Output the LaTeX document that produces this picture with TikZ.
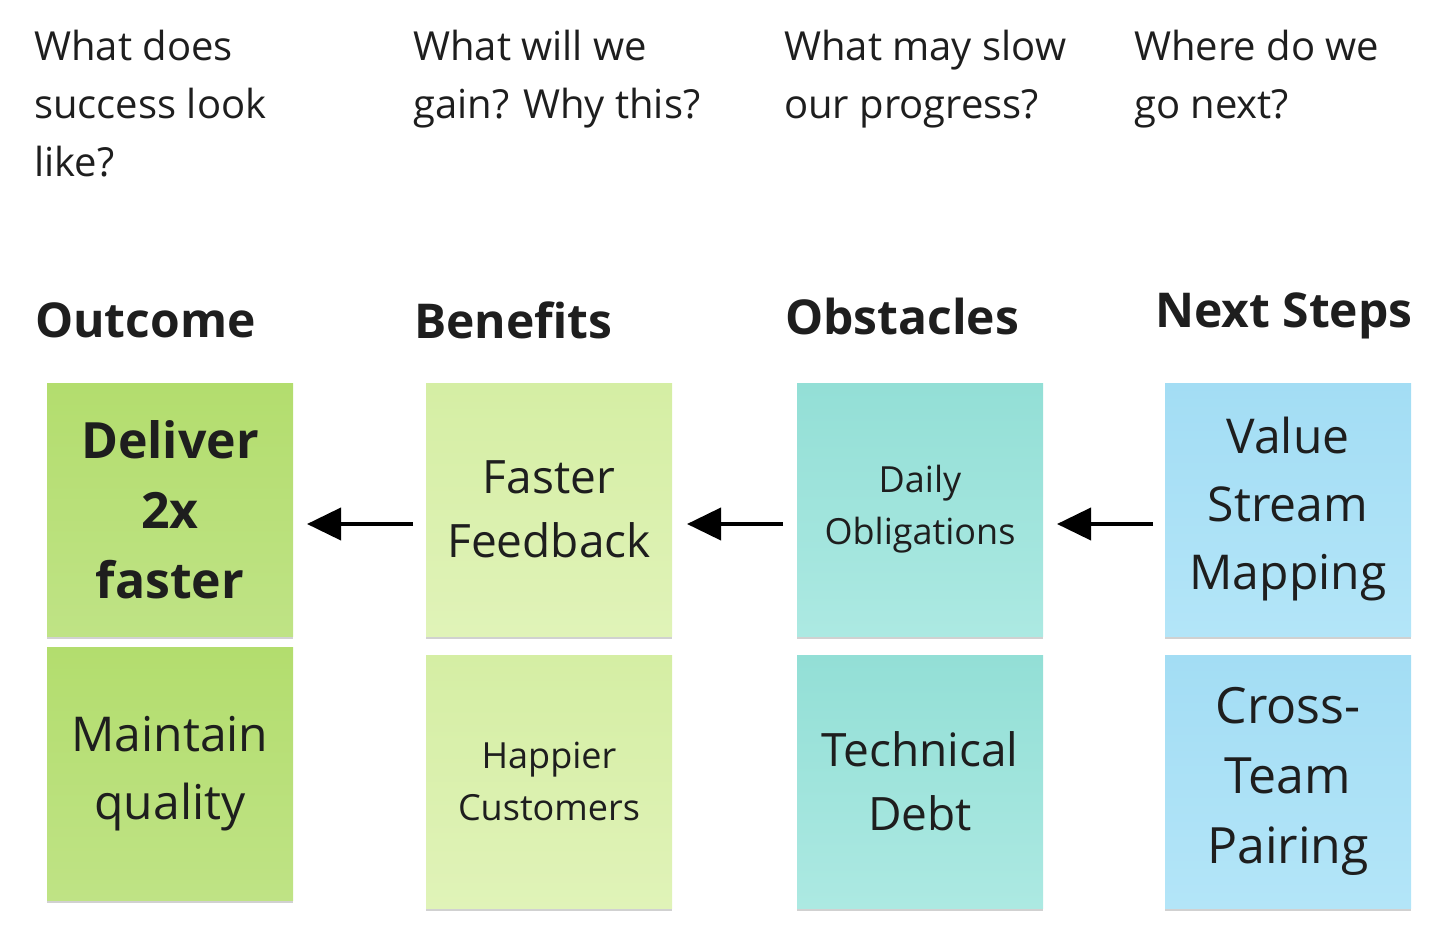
\documentclass[tikz,border=0pt]{standalone}
\usepackage{fontspec}
\setmainfont{Open Sans}
\usetikzlibrary{shadows,arrows.meta}
\definecolor{gA}{HTML}{B3DD6E}\definecolor{gAl}{HTML}{BFE385}
\definecolor{gB}{HTML}{D5EEA4}\definecolor{gBl}{HTML}{E0F3B8}
\definecolor{gC}{HTML}{93DFD6}\definecolor{gCl}{HTML}{ACE9E2}
\definecolor{gD}{HTML}{A3DDF4}\definecolor{gDl}{HTML}{B3E5F8}
\definecolor{ink}{HTML}{1E1E1E}
\tikzset{
 note/.style={minimum width=246pt,minimum height=253pt,inner sep=6pt,align=center,text width=234pt,
   text=ink,drop shadow={shadow xshift=0pt,shadow yshift=-3pt,opacity=.18,fill=black}},
 q/.style={anchor=north west,align=left,inner sep=0pt,text=ink,font=\fontsize{40}{58}\selectfont},
 hd/.style={anchor=west,inner sep=0pt,text=ink,font=\fontsize{48}{56}\selectfont\bfseries},
 arr/.style={line width=4pt,-{Triangle[length=34pt,width=32pt]}}
}
\begin{document}
\begin{tikzpicture}[x=1pt,y=-1pt]
\useasboundingbox (0,0) rectangle (1456,942);
\node[q] (q1) at (34,30) {What does\\success look\\like?};
\node[q] (q2) at (413,30) {What will we\\gain? Why this?};
\node[q] (q3) at (784,30) {What may slow\\our progress?};
\node[q] (q4) at (1134,30) {Where do we\\go next?};
\node[hd] (h1) at (35,320) {Outcome};
\node[hd] (h2) at (414,320) {Benefits};
\node[hd] (h3) at (785,316) {Obstacles};
\node[hd] (h4) at (1155,316) {Next Steps};
\node[note,top color=gA,bottom color=gAl,font=\fontsize{50}{70}\selectfont\bfseries] (n1) at (170,509.5) {Deliver\\2x\\faster};
\node[note,top color=gA,bottom color=gAl,font=\fontsize{48}{68}\selectfont] (n2) at (170,773.5) {Maintain\\quality};
\node[note,top color=gB,bottom color=gBl,font=\fontsize{46}{64}\selectfont] (n3) at (549,509.5) {Faster\\Feedback};
\node[note,top color=gB,bottom color=gBl,font=\fontsize{36}{52}\selectfont] (n4) at (549,781.5) {Happier\\Customers};
\node[note,top color=gC,bottom color=gCl,font=\fontsize{36}{52}\selectfont] (n5) at (920,509.5) {Daily\\Obligations};
\node[note,top color=gC,bottom color=gCl,font=\fontsize{46}{64}\selectfont] (n6) at (920,781.5) {Technical\\Debt};
\node[note,top color=gD,bottom color=gDl,font=\fontsize{48}{68}\selectfont] (n7) at (1288,509.5) {Value\\Stream\\Mapping};
\node[note,top color=gD,bottom color=gDl,font=\fontsize{50}{70}\selectfont] (n8) at (1288,781.5) {Cross-\\Team\\Pairing};
\coordinate (a1s) at (413,524); \coordinate (a1e) at (307,524);
\coordinate (a2s) at (783,524); \coordinate (a2e) at (687,524);
\coordinate (a3s) at (1153,524); \coordinate (a3e) at (1057,524);
\draw[arr] (a1s) -- (a1e);
\draw[arr] (a2s) -- (a2e);
\draw[arr] (a3s) -- (a3e);
\end{tikzpicture}
\end{document}
